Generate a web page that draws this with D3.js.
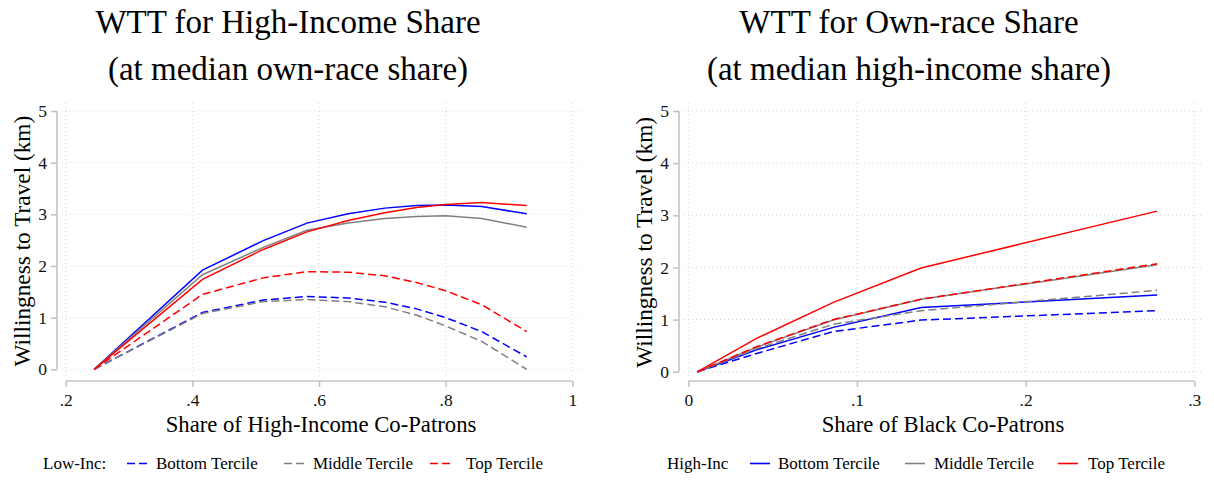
<!DOCTYPE html>
<html>
<head>
<meta charset="utf-8">
<script src="https://cdn.jsdelivr.net/npm/d3@7"></script>
<style>
  html, body { margin: 0; padding: 0; background: #fff; }
  svg { display: block; font-family: "Liberation Serif", "Times New Roman", serif; }
</style>
</head>
<body>
<svg id="chart" width="1214" height="481"></svg>
<script>
// ---- Left panel: WTT vs high-income share ----
const incShare = [0.245, 0.416, 0.512, 0.581, 0.646, 0.704, 0.754, 0.800, 0.857, 0.928];
const incHighBottom = [0, 1.92, 2.49, 2.83, 3.01, 3.12, 3.17, 3.18, 3.15, 3.01];
const incHighMiddle = [0, 1.83, 2.36, 2.69, 2.83, 2.92, 2.96, 2.97, 2.92, 2.75];
const incHighTop    = [0, 1.74, 2.32, 2.66, 2.88, 3.03, 3.13, 3.19, 3.23, 3.17];
const incLowBottom  = [0, 1.10, 1.34, 1.41, 1.38, 1.30, 1.17, 1.00, 0.73, 0.24];
const incLowMiddle  = [0, 1.08, 1.31, 1.35, 1.31, 1.21, 1.05, 0.84, 0.54, 0.00];
const incLowTop     = [0, 1.45, 1.77, 1.89, 1.88, 1.81, 1.68, 1.52, 1.25, 0.73];
const incXTicks = [0.2, 0.4, 0.6, 0.8, 1.0];

// ---- Right panel: WTT vs own-race (Black) share ----
const raceShare = [0.0055, 0.0405, 0.086, 0.138, 0.278];
const raceHighBottom = [0, 0.42, 0.85, 1.23, 1.47];
const raceHighMiddle = [0, 0.47, 0.99, 1.39, 2.05];
const raceHighTop    = [0, 0.64, 1.33, 1.99, 3.08];
const raceLowBottom  = [0, 0.35, 0.77, 0.99, 1.17];
const raceLowMiddle  = [0, 0.44, 0.91, 1.17, 1.56];
const raceLowTop     = [0, 0.48, 1.00, 1.39, 2.07];
const raceXTicks = [0, 0.1, 0.2, 0.3];

const yTicks = [0, 1, 2, 3, 4, 5];
const terciles = ["Bottom Tercile", "Middle Tercile", "Top Tercile"];
const colors = ["#0000ff", "#808080", "#ff0000"];

const svg = d3.select("#chart");

function fmtShare(v) {
  if (v === 0) return "0";
  if (v === 1) return "1";
  return d3.format(".1f")(v).replace(/^0/, "");
}

function drawPanel(cfg) {
  const g = svg.append("g");
  const x = d3.scaleLinear().domain(cfg.xDomain).range(cfg.xRange);
  const y = d3.scaleLinear().domain([0, 5]).range(cfg.yRange);

  // dotted grid
  g.append("g").selectAll("line.h").data(yTicks).join("line")
    .attr("x1", cfg.gridX[0]).attr("x2", cfg.gridX[1])
    .attr("y1", d => y(d)).attr("y2", d => y(d))
    .attr("stroke", "#d6d6d6").attr("stroke-width", 1).attr("stroke-dasharray", "1,3");
  g.append("g").selectAll("line.v").data(cfg.xTicks).join("line")
    .attr("x1", d => x(d)).attr("x2", d => x(d))
    .attr("y1", cfg.gridY[0]).attr("y2", cfg.gridY[1])
    .attr("stroke", "#d6d6d6").attr("stroke-width", 1).attr("stroke-dasharray", "1,3");

  // y axis
  const yAxis = d3.axisLeft(y).tickValues(yTicks).tickSize(6).tickPadding(4).tickFormat(d3.format("d"));
  const ya = g.append("g").attr("transform", `translate(${cfg.yAxisX},0)`).call(yAxis);
  // x axis
  const xAxis = d3.axisBottom(x).tickValues(cfg.xTicks).tickSize(6).tickPadding(7).tickFormat(fmtShare);
  const xa = g.append("g").attr("transform", `translate(0,${cfg.xAxisY})`).call(xAxis);
  [ya, xa].forEach(a => {
    a.select(".domain").attr("stroke", "#c4c4c4").attr("stroke-width", 1.6);
    a.selectAll(".tick line").attr("stroke", "#c4c4c4").attr("stroke-width", 1.6);
    a.selectAll(".tick text").attr("fill", "#111").style("font-family", "Liberation Serif")
      .style("font-size", "17.5px");
  });
  // straight domain paths without end caps
  ya.select(".domain").attr("d", `M0,${y(0)}V${y(5)}`);
  xa.select(".domain").attr("d", `M${x(cfg.xDomain[0])},0H${x(cfg.xDomain[1])}`);

  // series lines
  const line = d3.line().x(d => x(d[0])).y(d => y(d[1]));
  const series = [];
  cfg.high.forEach((vals, i) => series.push({ vals, color: colors[i], dash: null }));
  cfg.low.forEach((vals, i) => series.push({ vals, color: colors[i], dash: "8,4" }));
  g.append("g").selectAll("path").data(series).join("path")
    .attr("d", s => line(cfg.xs.map((v, i) => [v, s.vals[i]])))
    .attr("fill", "none")
    .attr("stroke", s => s.color)
    .attr("stroke-width", 1.5)
    .attr("stroke-dasharray", s => s.dash);

  // titles
  cfg.title.forEach((t, i) => {
    g.append("text").attr("x", cfg.titleX).attr("y", 33 + i * 47)
      .attr("text-anchor", "middle").style("font-size", "33px").attr("fill", "#000").text(t);
  });
  // axis titles
  g.append("text")
    .attr("transform", `translate(${cfg.yLabelX},${(y(0) + y(5)) / 2 + 1}) rotate(-90)`)
    .attr("text-anchor", "middle").style("font-size", "23.3px").attr("fill", "#000")
    .text("Willingness to Travel (km)");
  g.append("text").attr("x", cfg.xLabelX).attr("y", 432)
    .attr("text-anchor", "middle").style("font-size", "22.7px").attr("fill", "#000")
    .text(cfg.xLabel);

  // legend
  const lg = g.append("g");
  lg.append("text").attr("x", cfg.legend.head).attr("y", 469)
    .style("font-size", "17px").attr("fill", "#000").text(cfg.legend.label);
  terciles.forEach((t, i) => {
    const sx = cfg.legend.swatch[i];
    lg.append("line").attr("x1", sx).attr("x2", sx + 20).attr("y1", 463.5).attr("y2", 463.5)
      .attr("stroke", colors[i]).attr("stroke-width", 1.6)
      .attr("stroke-dasharray", cfg.legend.dashed ? "8,4" : null);
    lg.append("text").attr("x", cfg.legend.text[i]).attr("y", 469)
      .style("font-size", "17px").attr("fill", "#000").text(t);
  });
}

drawPanel({
  xDomain: [0.2, 1.0], xRange: [65.7, 572.3], yRange: [369.3, 111],
  gridX: [62, 580], gridY: [103, 377], yAxisX: 57, xAxisY: 381,
  xTicks: incXTicks, xs: incShare,
  high: [incHighBottom, incHighMiddle, incHighTop],
  low: [incLowBottom, incLowMiddle, incLowTop],
  title: ["WTT for High-Income Share", "(at median own-race share)"], titleX: 288,
  yLabelX: 30, xLabel: "Share of High-Income Co-Patrons", xLabelX: 321,
  legend: { label: "Low-Inc:", head: 43, dashed: true, swatch: [127, 284, 430], text: [156, 313, 466] }
});

drawPanel({
  xDomain: [0, 0.3], xRange: [688.3, 1194.3], yRange: [371.7, 111],
  gridX: [684, 1202], gridY: [103, 377], yAxisX: 679, xAxisY: 381,
  xTicks: raceXTicks, xs: raceShare,
  high: [raceHighBottom, raceHighMiddle, raceHighTop],
  low: [raceLowBottom, raceLowMiddle, raceLowTop],
  title: ["WTT for Own-race Share", "(at median high-income share)"], titleX: 909,
  yLabelX: 652, xLabel: "Share of Black Co-Patrons", xLabelX: 943,
  legend: { label: "High-Inc", head: 667, dashed: false, swatch: [750, 905, 1058], text: [778, 934, 1088] }
});
</script>
</body>
</html>
